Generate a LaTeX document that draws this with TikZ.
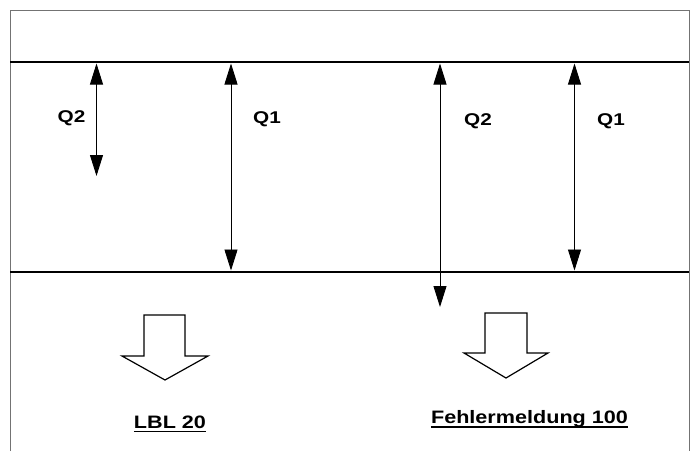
\documentclass[tikz,border=0pt]{standalone}
\usepackage{fontspec}
\setmainfont{Liberation Sans}
\newfontfamily\labfont[FakeStretch=1.2]{Liberation Sans}
\newfontfamily\qfont[FakeStretch=1.22]{Liberation Sans}
\usetikzlibrary{arrows.meta}
\begin{document}
\begin{tikzpicture}[x=1pt,y=-1pt,
  frame/.style={draw=black!55,line width=0.6pt},
  bar/.style={draw=black,line width=2.8pt},
  qarrow/.style={draw=black,line width=0.9pt,{Triangle[length=21pt,width=13pt]}-{Triangle[length=21pt,width=13pt]}},
  blockarrow/.style={draw=black,line width=1.2pt,fill=white,line join=miter},
  qlabel/.style={inner sep=0pt,font=\qfont\bfseries\fontsize{17}{19}\selectfont},
  reslabel/.style={inner sep=0pt,anchor=base,font=\labfont\bfseries\fontsize{18}{20}\selectfont},
  uline/.style={draw=black,line width=1.5pt}]
\useasboundingbox (0,0) rectangle (697,451);
% frame
\draw[frame] (10,451) -- (10,10) -- (689,10) -- (689,451);
% horizontal bars
\coordinate (tl) at (10,62);
\coordinate (tr) at (689,62);
\coordinate (bl) at (10,272);
\coordinate (br) at (689,272);
\draw[bar] (tl) -- (tr);
\draw[bar] (bl) -- (br);
% measurement arrows
\coordinate (q2at) at (96.5,63.5);
\coordinate (q2ab) at (96.5,176);
\coordinate (q1at) at (231,63.5);
\coordinate (q1ab) at (231,270.5);
\coordinate (q2bt) at (440,63.5);
\coordinate (q2bb) at (440,307);
\coordinate (q1bt) at (574.5,63.5);
\coordinate (q1bb) at (574.5,270.5);
\draw[qarrow] (q2at) -- (q2ab);
\draw[qarrow] (q1at) -- (q1ab);
\draw[qarrow] (q2bt) -- (q2bb);
\draw[qarrow] (q1bt) -- (q1bb);
\node[qlabel] (lq2a) at (71.5,118) {Q2};
\node[qlabel] (lq1a) at (267,119) {Q1};
\node[qlabel] (lq2b) at (478,121) {Q2};
\node[qlabel] (lq1b) at (611,121) {Q1};
% block arrows
\draw[blockarrow] (144,315) -- (185,315) -- (185,356) -- (208,356) -- (165,380) -- (122,356) -- (144,356) -- cycle;
\draw[blockarrow] (485,313) -- (527,313) -- (527,353) -- (548,353) -- (506,378) -- (464,353) -- (485,353) -- cycle;
% result labels
\node[reslabel] (lbl) at (170,428) {LBL 20};
\node[reslabel] (fm) at (529.5,423) {Fehlermeldung 100};
\draw[uline] ([yshift=-3.5pt]lbl.base west) -- ([yshift=-3.5pt]lbl.base east);
\draw[uline] ([yshift=-4pt]fm.base west) -- ([yshift=-4pt]fm.base east);
\end{tikzpicture}
\end{document}
